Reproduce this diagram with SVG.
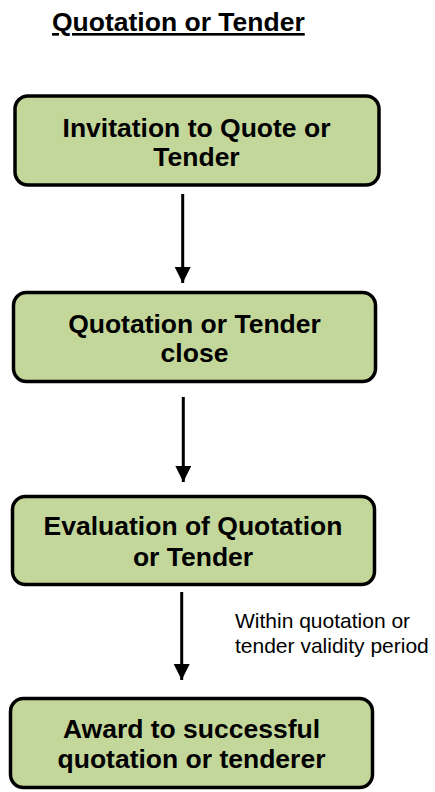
<svg xmlns="http://www.w3.org/2000/svg" width="435" height="792" viewBox="0 0 435 792">
<defs>
<style>
.box{fill:#C4D79B;stroke:#000;stroke-width:3.5}
.bt{font-family:"Liberation Sans",Arial,sans-serif;font-weight:bold;font-size:26.5px;fill:#000;text-anchor:middle}
.lbl{font-family:"Liberation Sans",Arial,sans-serif;font-size:21px;fill:#000}
.edge{stroke:#000;stroke-width:3;fill:none}
</style>
<marker id="ah" markerUnits="userSpaceOnUse" markerWidth="16" markerHeight="17" viewBox="0 0 16 17" refX="16" refY="8" orient="auto">
<path d="M0,0 L16,8 L0,16 Z" fill="#000"/>
</marker>
</defs>
<rect width="435" height="792" fill="#fff"/>
<g id="title">
<text x="52" y="31" font-family="'Liberation Sans',Arial,sans-serif" font-weight="bold" font-size="26.5px" text-decoration="underline">Quotation or Tender</text>
</g>
<g id="connectors">
<line class="edge" x1="182.7" y1="194" x2="182.7" y2="283" marker-end="url(#ah)"/>
<line class="edge" x1="183.3" y1="397" x2="183.3" y2="482" marker-end="url(#ah)"/>
<line class="edge" x1="181.7" y1="592" x2="181.7" y2="680" marker-end="url(#ah)"/>
<text class="lbl" x="235" y="628">Within quotation or</text>
<text class="lbl" x="235" y="653">tender validity period</text>
</g>
<g id="n1">
<rect class="box" x="15" y="96" width="364" height="89" rx="13"/>
<text class="bt" x="196.5" y="137">Invitation to Quote or</text>
<text class="bt" x="196.5" y="166">Tender</text>
</g>
<g id="n2">
<rect class="box" x="13.5" y="292.5" width="362" height="89" rx="13"/>
<text class="bt" x="194.5" y="333">Quotation or Tender</text>
<text class="bt" x="194.5" y="362">close</text>
</g>
<g id="n3">
<rect class="box" x="12.5" y="496.5" width="362" height="88" rx="13"/>
<text class="bt" x="193" y="535">Evaluation of Quotation</text>
<text class="bt" x="193" y="566">or Tender</text>
</g>
<g id="n4">
<rect class="box" x="10.5" y="698.5" width="362" height="89" rx="13"/>
<text class="bt" x="191.5" y="738">Award to successful</text>
<text class="bt" x="191.5" y="768">quotation or tenderer</text>
</g>
</svg>
